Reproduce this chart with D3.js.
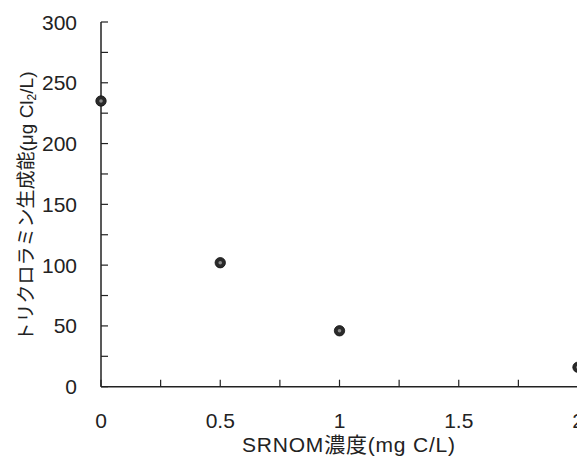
<!DOCTYPE html>
<html><head><meta charset="utf-8">
<script src="https://cdn.jsdelivr.net/npm/d3@7"></script>
<style>body{margin:0;background:#fff}svg{display:block}</style>
</head><body>
<svg id="c" width="577" height="459"></svg>
<script>
const xValues = [0, 0.5, 1, 2];
const yValues = [235, 102, 46, 16];
const xTickLabels = [0, 0.5, 1, 1.5, 2];
const yTickLabels = [0, 50, 100, 150, 200, 250, 300];
const xLabel = "SRNOM濃度(mg C/L)";
const yLabelMain = "トリクロラミン生成能(μg Cl";
const yLabelSub = "2";
const yLabelEnd = "/L)";

const svg = d3.select("#c");
const x = d3.scaleLinear().domain([0, 2]).range([101, 578]);
const y = d3.scaleLinear().domain([0, 300]).range([386.7, 22]);
const font = "'Liberation Sans', Arial, 'Noto Sans CJK JP', sans-serif";
const ink = "#222";

// axes lines
svg.append("line").attr("x1", x(0)).attr("x2", x(2)).attr("y1", y(0)).attr("y2", y(0))
  .attr("stroke", ink).attr("stroke-width", 1.5);
svg.append("line").attr("x1", x(0)).attr("x2", x(0)).attr("y1", y(0)).attr("y2", y(300))
  .attr("stroke", ink).attr("stroke-width", 1.5);

// y ticks (major + minor) inward
const yt = d3.range(0, 301, 25);
svg.selectAll(".yt").data(yt).join("line")
  .attr("x1", x(0)).attr("x2", x(0) + 7)
  .attr("y1", d => y(d)).attr("y2", d => y(d))
  .attr("stroke", ink).attr("stroke-width", 1.2);
svg.selectAll(".ytl").data(yTickLabels).join("text")
  .attr("x", 77).attr("y", d => y(d)).attr("dy", "0.36em")
  .attr("text-anchor", "end").attr("font-family", font).attr("font-size", 21)
  .attr("fill", ink).text(d => d);

// x ticks inward
const xt = d3.range(0, 2.01, 0.25);
svg.selectAll(".xt").data(xt).join("line")
  .attr("x1", d => x(d)).attr("x2", d => x(d))
  .attr("y1", y(0)).attr("y2", y(0) - 7)
  .attr("stroke", ink).attr("stroke-width", 1.2);
svg.selectAll(".xtl").data(xTickLabels).join("text")
  .attr("x", d => x(d)).attr("y", 428)
  .attr("text-anchor", "middle").attr("font-family", font).attr("font-size", 21)
  .attr("fill", ink).text(d => d);

// points
const pts = xValues.map((v, i) => [v, yValues[i]]);
svg.selectAll(".pt").data(pts).join("circle")
  .attr("cx", d => x(d[0])).attr("cy", d => y(d[1])).attr("r", 5.2)
  .attr("fill", "#2a2a2a").attr("stroke", "#111").attr("stroke-width", 0.8);
svg.selectAll(".pti").data(pts).join("circle")
  .attr("cx", d => x(d[0])).attr("cy", d => y(d[1])).attr("r", 1.8)
  .attr("fill", "#8a8a8a");

// x label
svg.append("text").attr("x", 348.5).attr("y", 452).attr("text-anchor", "middle")
  .attr("font-family", font).attr("font-size", 21).attr("fill", ink)
  .attr("textLength", 213).attr("lengthAdjust", "spacing").text(xLabel);

// y label
const yl = svg.append("text").attr("transform", "translate(33,206.5) rotate(-90)")
  .attr("text-anchor", "middle").attr("font-family", font).attr("font-size", 19).attr("fill", ink);
yl.append("tspan").text(yLabelMain);
yl.append("tspan").attr("font-size", 12).attr("dy", 3).text(yLabelSub);
yl.append("tspan").attr("dy", -3).text(yLabelEnd);
</script>
</body></html>
